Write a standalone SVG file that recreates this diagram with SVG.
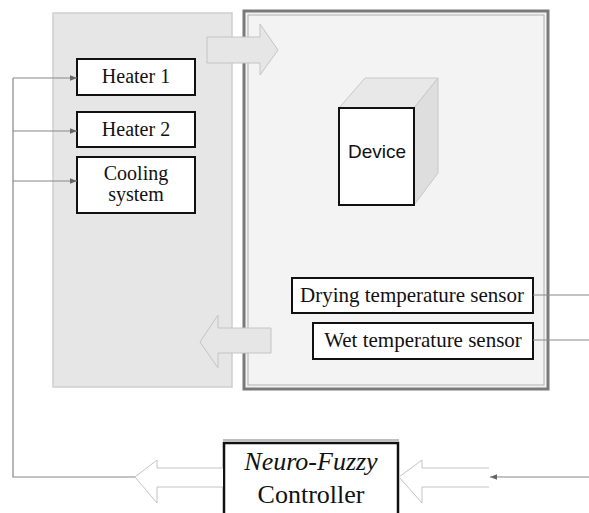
<svg xmlns="http://www.w3.org/2000/svg" width="589" height="513" viewBox="0 0 589 513">
<defs>
<style>
.box{fill:#fff;stroke:#111;stroke-width:2}
.t{font-family:"Liberation Serif","Times New Roman",serif;fill:#111;text-anchor:middle}
.ln{fill:none;stroke:#888;stroke-width:1.2}
.fat{fill:#e6e6e6;stroke:#c4c4c4;stroke-width:1}
.fatw{fill:#fff;stroke:#c4c4c4;stroke-width:1}
</style>
<marker id="ah" viewBox="0 0 10 10" refX="10" refY="5" markerWidth="7" markerHeight="7" orient="auto" markerUnits="userSpaceOnUse">
<path d="M0,1 L10,5 L0,9 z" fill="#666"/>
</marker>
</defs>
<rect width="589" height="513" fill="#fff"/>
<g id="panel">
<rect x="53" y="13" width="179" height="374" fill="#e6e6e6" stroke="#cfcfcf" stroke-width="1.5"/>
</g>
<g id="chamber">
<rect x="244" y="11" width="304" height="378" fill="#f3f3f3" stroke="#7a7a7a" stroke-width="3"/>
<rect x="248" y="15" width="296" height="370" fill="none" stroke="#b0b0b0" stroke-width="1"/>
</g>
<g id="heater1">
<rect class="box" x="77" y="59" width="118" height="36"/>
<text class="t" x="136" y="83" font-size="20">Heater 1</text>
</g>
<g id="heater2">
<rect class="box" x="77" y="112" width="118" height="35"/>
<text class="t" x="136" y="136" font-size="20">Heater 2</text>
</g>
<g id="cooling">
<rect class="box" x="77" y="157" width="118" height="56"/>
<text class="t" x="136" y="180" font-size="20">Cooling</text>
<text class="t" x="136" y="201" font-size="20">system</text>
</g>
<g id="device">
<path d="M339,108 L365,78 L438,78 L414,108 z" fill="#e8e8e8" stroke="#c8c8c8" stroke-width="1"/>
<path d="M414,108 L438,78 L438,173 L414,205 z" fill="#dedede" stroke="#c8c8c8" stroke-width="1"/>
<rect class="box" x="339" y="108" width="75" height="97"/>
<text x="377" y="158" font-size="19" font-family="Liberation Sans, Arial, sans-serif" text-anchor="middle" fill="#111">Device</text>
</g>
<g id="drysensor">
<rect class="box" x="292" y="278" width="241" height="35"/>
<text class="t" x="412" y="302" font-size="21">Drying temperature sensor</text>
</g>
<g id="wetsensor">
<rect class="box" x="313" y="323" width="220" height="36"/>
<text class="t" x="423" y="347" font-size="21">Wet temperature sensor</text>
</g>
<g id="controller">
<line x1="223" y1="440" x2="399" y2="440" stroke="#aaa" stroke-width="1.5"/>
<rect x="224" y="443" width="174" height="80" fill="#fff" stroke="#111" stroke-width="2.5"/>
<text class="t" x="311" y="470" font-size="26" font-style="italic">Neuro-Fuzzy</text>
<text class="t" x="311" y="503" font-size="26">Controller</text>
</g>
<g id="connectors">
<path class="fat" d="M207,37 L260,37 L260,24 L278,50 L260,75 L260,63 L207,63 z"/>
<path class="fat" d="M271,328 L218,328 L218,315 L200,342 L218,368 L218,353 L271,353 z"/>
<path class="fatw" d="M223,468 L157,468 L157,460 L135,477 L157,503 L157,487 L223,487"/>
<path class="fatw" d="M489,468 L422,468 L422,460 L399,477 L422,503 L422,487 L489,487"/>
<path class="ln" d="M135,477 L13,477 L13,78"/>
<line class="ln" x1="13" y1="78" x2="77" y2="78" marker-end="url(#ah)"/>
<line class="ln" x1="13" y1="131" x2="77" y2="131" marker-end="url(#ah)"/>
<line class="ln" x1="13" y1="181" x2="77" y2="181" marker-end="url(#ah)"/>
<line class="ln" x1="533" y1="295" x2="589" y2="295"/>
<line class="ln" x1="533" y1="340" x2="589" y2="340"/>
<line class="ln" x1="589" y1="477" x2="490" y2="477" marker-end="url(#ah)"/>
</g>
</svg>
